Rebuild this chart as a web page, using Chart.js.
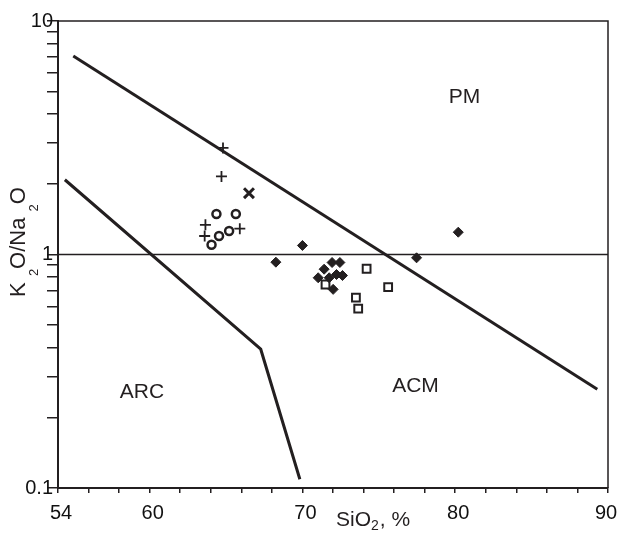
<!DOCTYPE html>
<html>
<head>
<meta charset="utf-8">
<script src="https://cdn.jsdelivr.net/npm/chart.js@4"></script>
<style>
  body { margin: 0; background: #fff; }
  #wrap { width: 618px; height: 534px; }
</style>
</head>
<body>
<div id="wrap"><canvas id="tectonicChart" width="618" height="534"></canvas></div>
<script>
// SiO2 (%) and K2O/Na2O
const crossX = [64.8, 64.7, 63.65, 63.6, 65.9];
const crossY = [2.86, 2.16, 1.34, 1.2, 1.29];

const xMarkX = [66.5];
const xMarkY = [1.83];

const circleX = [64.37, 65.64, 64.05, 64.54, 65.2];
const circleY = [1.49, 1.49, 1.1, 1.2, 1.26];

const diamondX = [68.26, 70.0, 80.2, 77.47, 71.94, 72.45, 71.42, 71.03, 71.75, 72.23, 72.62, 72.01];
const diamondY = [0.927, 1.093, 1.246, 0.968, 0.924, 0.924, 0.865, 0.795, 0.795, 0.821, 0.813, 0.709];

const squareX = [71.51, 74.2, 75.61, 73.5, 73.65];
const squareY = [0.744, 0.869, 0.725, 0.653, 0.586];

// field boundaries
const upperLineX = [55.0, 89.3];
const upperLineY = [7.08, 0.265];
const lowerLineX = [54.45, 67.27, 69.83];
const lowerLineY = [2.09, 0.393, 0.109];
const refLineX = [54, 90];
const refLineY = [1, 1];

const regionNames = ['PM', 'ACM', 'ARC'];
const regionX = [80.6, 77.4, 59.5];
const regionY = [4.72, 0.273, 0.257];

// ticks
const xTicks = [54, 56, 58, 60, 62, 64, 66, 68, 70, 72, 74, 76, 78, 80, 82, 84, 86, 88, 90];
const xTickLabels = [54, 60, 70, 80, 90];
const yTicks = [0.1, 0.2, 0.3, 0.4, 0.5, 0.6, 0.7, 0.8, 0.9, 1, 2, 3, 4, 5, 6, 7, 8, 9, 10];
const yTickLabels = ['0.1', '1', '10'];

const ink = '#231f20';
const fontName = '"Liberation Sans", Arial, sans-serif';

function pts(xs, ys) {
  return xs.map((x, i) => ({ x: x, y: ys[i] }));
}

function lineSet(xs, ys, width) {
  return {
    data: pts(xs, ys),
    showLine: true,
    borderColor: ink,
    borderWidth: width,
    pointRadius: 0,
    fill: false
  };
}

function markerSet(xs, ys, style, radius, width, filled) {
  return {
    data: pts(xs, ys),
    pointStyle: style,
    pointRadius: radius,
    borderWidth: width,
    borderColor: ink,
    backgroundColor: filled ? ink : '#fff',
    showLine: false
  };
}

// draws frame, region names and axis titles (with subscripts)
const decorations = {
  id: 'decorations',
  afterDraw(chart) {
    const ctx = chart.ctx;
    const a = chart.chartArea;
    const xs = chart.scales.x;
    const ys = chart.scales.y;

    ctx.save();
    ctx.strokeStyle = ink;
    ctx.lineWidth = 1.5;
    ctx.beginPath();
    ctx.moveTo(a.left, a.top);
    ctx.lineTo(a.right, a.top);
    ctx.lineTo(a.right, a.bottom);
    ctx.stroke();

    ctx.fillStyle = ink;
    ctx.font = '21px ' + fontName;
    ctx.textAlign = 'center';
    ctx.textBaseline = 'middle';
    regionNames.forEach((name, i) => {
      ctx.fillText(name, xs.getPixelForValue(regionX[i]), ys.getPixelForValue(regionY[i]));
    });

    // x title
    ctx.textAlign = 'left';
    ctx.textBaseline = 'alphabetic';
    let px = 336;
    const xParts = [['SiO', false], ['2', true], [', %', false]];
    xParts.forEach(p => {
      ctx.font = (p[1] ? '14px ' : '21px ') + fontName;
      ctx.fillText(p[0], px, p[1] ? 530 : 526);
      px += ctx.measureText(p[0]).width + (p[1] ? 1 : 0);
    });

    // y title, rotated
    const yParts = [['K ', false], ['2', true], ['O/Na ', false], ['2', true], ['O', false]];
    let total = 0;
    yParts.forEach(p => {
      ctx.font = (p[1] ? '13px ' : '22px ') + fontName;
      total += ctx.measureText(p[0]).width;
    });
    ctx.translate(25, 242);
    ctx.rotate(-Math.PI / 2);
    let py = -total / 2;
    yParts.forEach(p => {
      ctx.font = (p[1] ? '13px ' : '22px ') + fontName;
      ctx.fillText(p[0], py, p[1] ? 13 : 0);
      py += ctx.measureText(p[0]).width;
    });
    ctx.restore();
  }
};

const ctx = document.getElementById('tectonicChart').getContext('2d');

new Chart(ctx, {
  type: 'scatter',
  data: {
    datasets: [
      lineSet(refLineX, refLineY, 1.6),
      lineSet(upperLineX, upperLineY, 3),
      lineSet(lowerLineX, lowerLineY, 3),
      markerSet(crossX, crossY, 'cross', 5.5, 1.8, false),
      markerSet(xMarkX, xMarkY, 'crossRot', 7, 3, false),
      markerSet(circleX, circleY, 'circle', 4, 2.5, false),
      markerSet(diamondX, diamondY, 'rectRot', 5, 1, true),
      markerSet(squareX, squareY, 'rect', 5.5, 2, false)
    ]
  },
  options: {
    responsive: false,
    animation: false,
    events: [],
    layout: { padding: { top: 21, right: 10, left: 0, bottom: 0 } },
    plugins: {
      legend: { display: false },
      tooltip: { enabled: false },
      title: { display: false }
    },
    scales: {
      x: {
        type: 'linear',
        min: 54,
        max: 90,
        afterBuildTicks: scale => { scale.ticks = xTicks.map(v => ({ value: v })); },
        afterFit: scale => {
          scale.height = 46;
          scale.paddingLeft = 0;
          scale.paddingRight = 0;
        },
        border: { display: true, color: ink, width: 2 },
        grid: { drawOnChartArea: false, drawTicks: true, tickLength: 5, color: ink, lineWidth: 1.5 },
        ticks: {
          autoSkip: false,
          maxRotation: 0,
          padding: 8,
          labelOffset: 3,
          color: '#111',
          font: { family: fontName, size: 20 },
          // last label pulled in so it stays inside the picture
          callback: v => {
            if (!xTickLabels.includes(v)) return '';
            return v === 90 ? '90\u2002' : String(v);
          }
        }
      },
      y: {
        type: 'logarithmic',
        min: 0.1,
        max: 10,
        afterBuildTicks: scale => { scale.ticks = yTicks.map(v => ({ value: v })); },
        afterFit: scale => {
          scale.width = 58;
          scale.paddingTop = 0;
          scale.paddingBottom = 0;
        },
        border: { display: true, color: ink, width: 2 },
        grid: { drawOnChartArea: false, drawTicks: true, tickLength: 11, color: ink, lineWidth: 1.5 },
        ticks: {
          autoSkip: false,
          padding: -6,
          color: '#111',
          font: { family: fontName, size: 20 },
          callback: v => {
            const s = String(Number(v.toPrecision(3)));
            return yTickLabels.includes(s) ? s : '';
          }
        }
      }
    }
  },
  plugins: [decorations]
});
</script>
</body>
</html>
